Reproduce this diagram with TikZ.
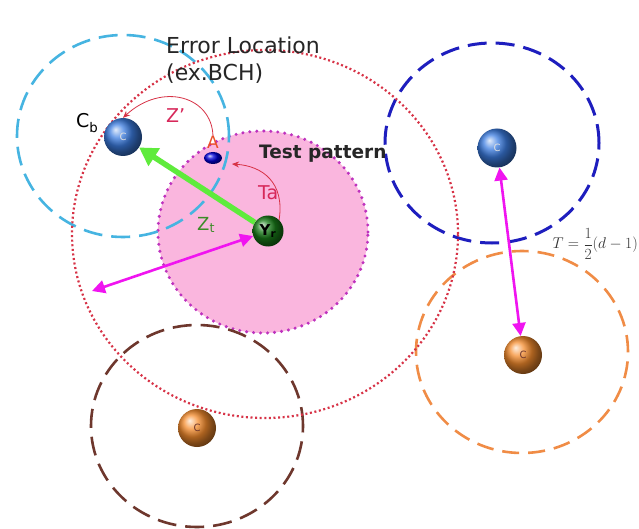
\documentclass[tikz,border=0pt]{standalone}
\usepackage{fontspec}
\setmainfont{DejaVu Sans}
\usetikzlibrary{arrows.meta,shapes.geometric}
\definecolor{cyanc}{RGB}{70,180,225}
\definecolor{blued}{RGB}{30,30,190}
\definecolor{orangec}{RGB}{240,140,70}
\definecolor{brownc}{RGB}{110,55,45}
\definecolor{redd}{RGB}{215,50,70}
\definecolor{pinkfill}{RGB}{250,182,222}
\definecolor{pinkborder}{RGB}{190,50,190}
\definecolor{magA}{RGB}{240,20,240}
\definecolor{greenA}{RGB}{95,235,60}
\definecolor{crim}{RGB}{215,40,90}
\definecolor{ztgreen}{RGB}{60,140,40}
\definecolor{aorange}{RGB}{235,80,40}
\definecolor{cbblue}{RGB}{60,125,225}
\definecolor{orng}{RGB}{245,140,45}
\definecolor{ygreen}{RGB}{25,125,25}
\begin{document}
\begin{tikzpicture}[x=1pt,y=-1pt,
  sphere/.style={circle, inner sep=0pt, minimum size=#1},
  dashring/.style={line width=2.6pt, dash pattern=on 19pt off 9pt},
  magarrow/.style={draw=magA, line width=2.6pt, {Triangle[length=13pt,width=13pt]}-{Triangle[length=13pt,width=13pt]}},
  greenarrow/.style={draw=greenA, line width=5.5pt, -{Triangle[length=18pt,width=20pt]}},
  thinred/.style={draw=redd, line width=0.8pt, -{Stealth[length=7pt,width=6pt]}},
  markc/.style={font=\fontsize{10}{10}\selectfont}]
\useasboundingbox[fill=white] (0,0) rectangle (639,529);

% test pattern region
\draw[fill=pinkfill, draw=pinkborder, line width=3.4pt, line cap=round, dash pattern=on 0pt off 7pt]
  (263,232) ellipse[x radius=105pt, y radius=101pt];

% dashed rings
\draw[dashring, draw=cyanc] (123,136) ellipse[x radius=106pt, y radius=101pt];
\draw[dashring, draw=blued, line width=3pt] (492,143) ellipse[x radius=107pt, y radius=100pt];
\draw[dashring, draw=orangec, dash pattern=on 17pt off 9pt] (522,352) ellipse[x radius=106pt, y radius=101pt];
\draw[dashring, draw=brownc] (197,426) ellipse[x radius=106pt, y radius=101pt];

% big red dotted ring
\draw[draw=redd, line width=2.2pt, dash pattern=on 2pt off 2.6pt] (265,234) ellipse[x radius=193pt, y radius=184pt];

% balls
\node[sphere=38pt, ball color=cbblue, markc, text=white!75!gray] (cb) at (123,137) {C};
\node[sphere=39pt, ball color=cbblue, markc, text=white!75!gray] (cr) at (497,148) {C};
\node[sphere=38pt, ball color=orng, markc, text=brownc] (or) at (523,355) {C};
\node[sphere=38pt, ball color=orng, markc, text=brownc] (ol) at (197,428) {C};
\node[sphere=31pt, ball color=ygreen, font=\bfseries\fontsize{15}{15}\selectfont] (yr) at (268,231) {Y\textsubscript{r}};
\node[ellipse, inner sep=0pt, minimum width=18pt, minimum height=12pt, ball color=blue!85!black] (a) at (213,158) {};

% labels
\node[anchor=north west, align=left, inner sep=0pt, font=\fontsize{22}{27}\selectfont, text=black!85] (err) at (166,37) {Error Location\\(ex.BCH)};
\node[anchor=base west, inner sep=0pt, font=\bfseries\fontsize{18.5}{20}\selectfont, text=black!85] (tp) at (259,159) {Test pattern};
\node[anchor=base west, inner sep=0pt, font=\fontsize{19}{20}\selectfont] (cbl) at (76,128) {C\textsubscript{b}};
\node[anchor=base west, inner sep=0pt, font=\fontsize{19}{20}\selectfont, text=crim] (zp) at (166,123) {Z’};
\node[anchor=base west, inner sep=0pt, font=\fontsize{17}{17}\selectfont, text=aorange] (al) at (207,149) {A};
\node[anchor=base west, inner sep=0pt, font=\fontsize{19}{20}\selectfont, text=crim] (ta) at (258,200) {Ta};
\node[anchor=base west, inner sep=0pt, font=\fontsize{18}{18}\selectfont, text=ztgreen] (zt) at (197,230) {Z\textsubscript{t}};
\node[anchor=east, inner sep=0pt, font=\fontsize{17}{19}\selectfont, text=black!80] (fm) at (638,244) {\scalebox{0.9}{$T=\displaystyle\frac{1}{2}(d-1)$}};

% connectors
\coordinate (mleft) at (92,291);
\coordinate (taend) at (232,164);
\draw[greenarrow] (yr) -- (cb);
\draw[magarrow] (yr) -- (mleft);
\draw[magarrow] (cr) -- (or);
\draw[thinred] (al.north) .. controls (212,96) and (162,82) .. (cb.north);
\draw[thinred] (yr.45) .. controls (285,182) and (262,166) .. (taend);
\end{tikzpicture}
\end{document}
